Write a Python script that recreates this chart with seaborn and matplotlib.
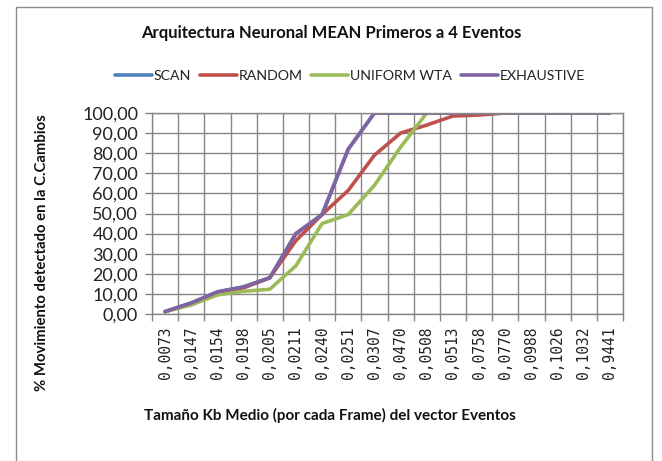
import matplotlib
matplotlib.use("Agg")
import matplotlib.pyplot as plt
import seaborn as sns
import pandas as pd
import numpy as np
from matplotlib.patches import Rectangle
from matplotlib.ticker import FixedLocator

categories = ["0,0073", "0,0147", "0,0154", "0,0198", "0,0205", "0,0211", "0,0240",
              "0,0251", "0,0307", "0,0470", "0,0508", "0,0513", "0,0758", "0,0770",
              "0,0988", "0,1026", "0,1032", "0,9441"]
scan = [1.2, 5.5, 11.0, 13.5, 18.0, 40.0, 49.5, 82.0, 100, 100, 100, 100, 100, 100, 100, 100, 100, 100]
random_ = [1.2, 5.0, 10.0, 13.0, 18.0, 36.5, 49.5, 61.5, 79.0, 90.0, 94.0, 98.5, 99.0, 100, 100, 100, 100, 100]
uniform = [1.2, 4.5, 9.5, 11.3, 12.3, 24.0, 45.0, 49.5, 64.0, 83.0, 100, 100, 100, 100, 100, 100, 100, 100]
exhaustive = [1.2, 5.5, 11.0, 13.5, 18.0, 40.0, 49.5, 82.0, 100, 100, 100, 100, 100, 100, 100, 100, 100, 100]
series_names = ["SCAN", "RANDOM", "UNIFORM WTA", "EXHAUSTIVE"]
colors = ["#4F81BD", "#C0504D", "#9BBB59", "#8064A2"]
title = "Arquitectura Neuronal MEAN Primeros a 4 Eventos"
xlabel = "Tamaño Kb Medio (por cada Frame) del vector Eventos"
ylabel = "% Movimiento detectado en la C.Cambios"

sns.set_theme(style="white")
plt.rcParams["font.family"] = ["Lato", "DejaVu Sans"]

rows = []
for name, vals in zip(series_names, [scan, random_, uniform, exhaustive]):
    for i, v in enumerate(vals):
        rows.append({"pos": i, "val": v, "serie": name})
df = pd.DataFrame(rows)

W, H = 662, 461
fig = plt.figure(figsize=(W / 100, H / 100), dpi=100)
fig.patch.set_facecolor("white")
ax = fig.add_axes([152 / W, 1 - 314 / H, (623 - 152) / W, (314 - 113) / H])

sns.lineplot(data=df, x="pos", y="val", hue="serie", hue_order=series_names,
             palette=colors, linewidth=2.6, ax=ax, legend=False, estimator=None, sort=False)

ax.set_xlim(-0.5, len(categories) - 0.5)
ax.set_ylim(0, 100)
ax.set_yticks(np.arange(0, 101, 10))
ax.set_yticklabels([f"{v:.2f}".replace(".", ",") for v in np.arange(0, 101, 10)],
                   fontsize=13, color="#222222")
ax.set_xticks(range(len(categories)))
ax.set_xticklabels(categories, rotation=90, fontsize=10.5, family="DejaVu Sans Mono", color="#222222")
ax.xaxis.set_minor_locator(FixedLocator(np.arange(-0.5, len(categories), 1.0)))
ax.tick_params(axis="x", which="major", length=0, pad=9)
ax.tick_params(axis="x", which="minor", length=5, color="#868686", width=1, direction="out", bottom=True)
ax.tick_params(axis="y", which="major", length=5, color="#868686", width=1, direction="out", left=True, pad=5)
ax.grid(True, axis="y", which="major", color="#868686", linewidth=1)
ax.grid(True, axis="x", which="minor", color="#868686", linewidth=1)
ax.grid(False, axis="x", which="major")
for s in ax.spines.values():
    s.set_color("#868686")
    s.set_linewidth(1)
ax.set_xlabel("")
ax.set_ylabel("")

fig.text(331 / W, 1 - 33 / H, title, ha="center", va="center", fontsize=12, fontweight="bold", color="#111111")
fig.text(330 / W, 1 - 415 / H, xlabel, ha="center", va="center", fontsize=11, fontweight="bold", color="#111111")
fig.text(42 / W, 1 - 253 / H, ylabel, ha="center", va="center", rotation=90, fontsize=10.7,
         fontweight="bold", color="#111111")

handles = [plt.Line2D([0], [0], color=c, lw=2.6) for c in colors]
fig.legend(handles, series_names, loc="center", bbox_to_anchor=(350 / W, 1 - 76 / H), ncol=4,
           frameon=False, fontsize=10.2, handlelength=2.6, handletextpad=0.15, columnspacing=0.6,
           labelcolor="#222222")

fig.add_artist(Rectangle((16 / W, -0.01), (652 - 16) / W, 1 - 7 / H + 0.01, transform=fig.transFigure,
                         fill=False, edgecolor="#8C8C8C", linewidth=1))

fig.savefig("out.png", dpi=100, facecolor="white")
